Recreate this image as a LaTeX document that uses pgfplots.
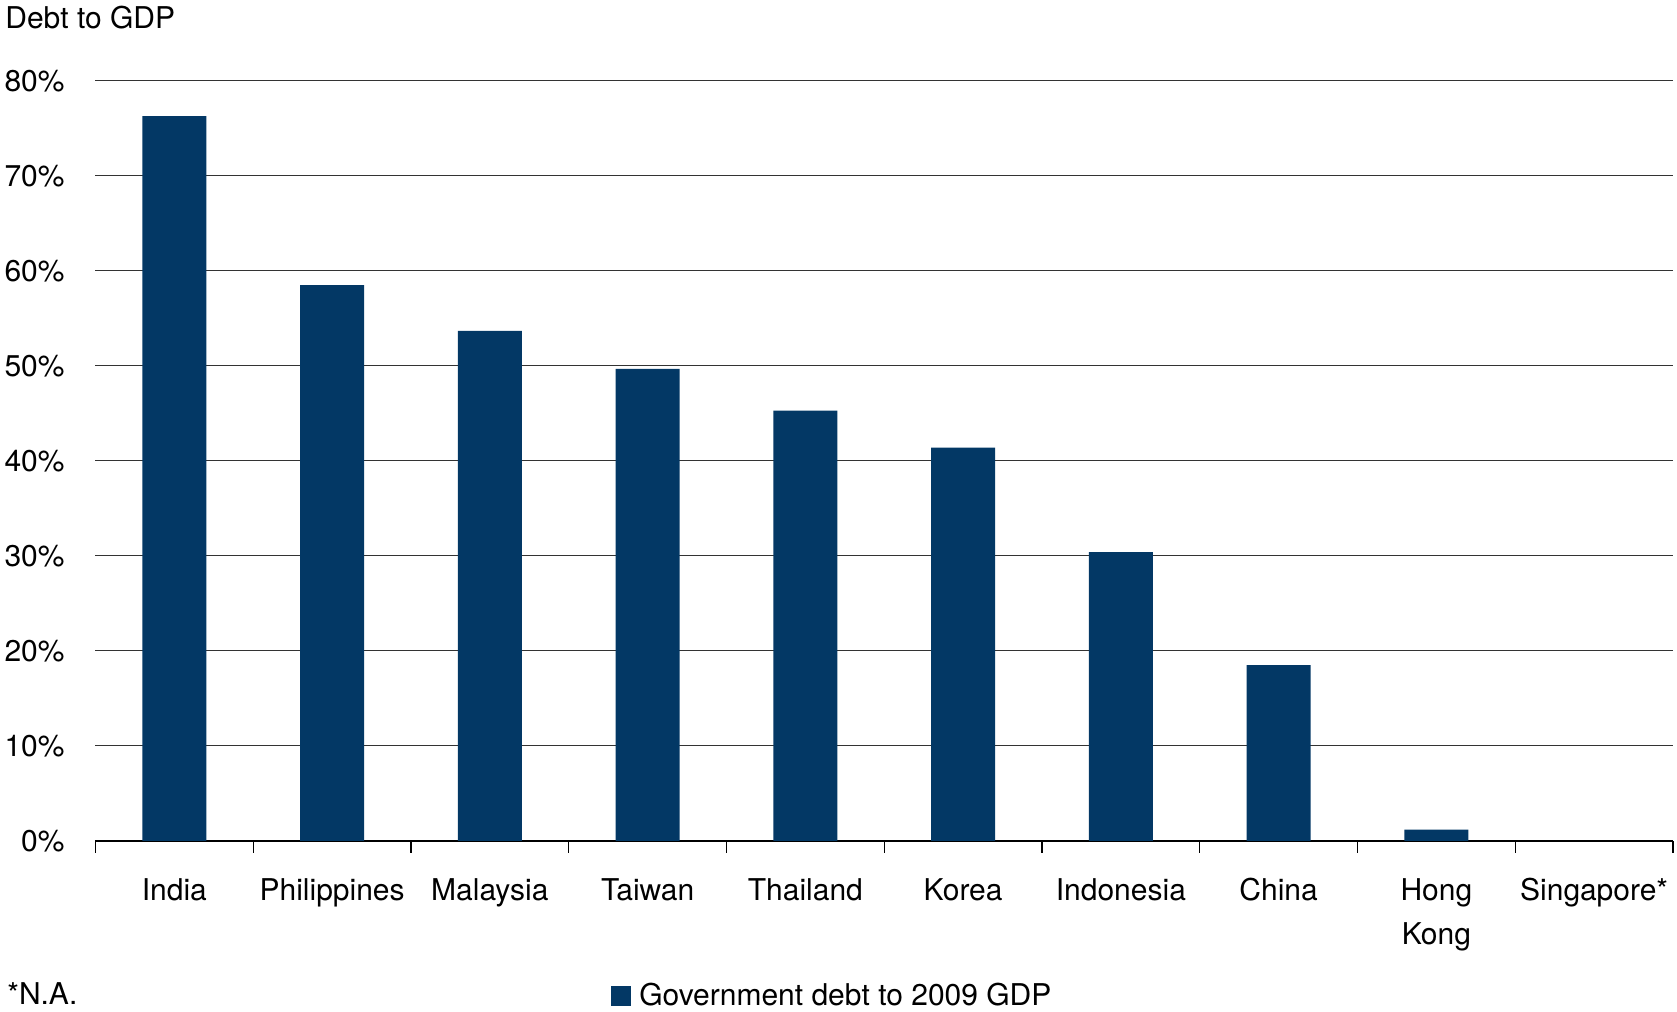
\documentclass[border=0pt]{standalone}
\usepackage{fontspec}
\setmainfont{TeX Gyre Heros}
\usepackage{pgfplots}
\pgfplotsset{compat=1.18}
\definecolor{barblue}{HTML}{033865}
\begin{document}
\begin{tikzpicture}
\begin{axis}[
  name=ax,
  scale only axis,
  width=788.75pt, height=380pt,
  xmin=-0.5, xmax=9.5, ymin=0, ymax=80,
  ybar, bar width=32pt,
  axis x line*=bottom, axis y line*=left,
  y axis line style={draw=none},
  x axis line style={black, line width=1pt, -},
  ytick={0,10,...,80},
  yticklabels={0\%,10\%,20\%,30\%,40\%,50\%,60\%,70\%,80\%},
  ymajorgrids,
  grid style={black!80, line width=0.5pt},
  xtick={0,...,9},
  xticklabels={India,Philippines,Malaysia,Taiwan,Thailand,Korea,Indonesia,China,Hong\\Kong,Singapore*},
  minor xtick={-0.5,0.5,...,9.5},
  major tick length=0pt,
  minor tick length=6pt,
  tick align=outside,
  minor tick style={black, line width=0.6pt},
  xticklabel style={align=center, font=\fontsize{15}{22}\selectfont, anchor=north, inner sep=0pt, yshift=-18.5pt},
  yticklabel style={anchor=east, inner sep=0pt, xshift=-15.25pt, font=\fontsize{15}{18}\selectfont},
  legend style={draw=none, fill=none, inner sep=0pt, outer sep=0pt, at={(0.327,0)}, anchor=north west, yshift=-71pt, font=\fontsize{15}{18}\selectfont, nodes={inner sep=0pt}, /tikz/every odd column/.append style={column sep=4pt}},
  legend cell align=left,
  legend image code/.code={\fill[barblue] (0pt,-5pt) rectangle (10pt,5pt);},
]
\addplot[fill=barblue, draw=none] coordinates {
  (0,76.3) (1,58.5) (2,53.7) (3,49.7) (4,45.3) (5,41.4) (6,30.4) (7,18.5) (8,1.2)
};
\addlegendentry{Government debt to 2009 GDP}
\end{axis}
\node[anchor=base west, inner sep=0pt, font=\fontsize{15}{18}\selectfont] at ([shift={(-44.25pt,-82pt)}]ax.south west) {*N.A.};
\node[anchor=base west, inner sep=0pt, font=\fontsize{15}{18}\selectfont] at ([shift={(-45.25pt,26.35pt)}]ax.north west) {Debt to GDP};
\pgfresetboundingbox
\path[use as bounding box] ([shift={(-47.75pt,-85.5pt)}]ax.south west) rectangle ([shift={(2pt,40.5pt)}]ax.north east);
\end{tikzpicture}
\end{document}
